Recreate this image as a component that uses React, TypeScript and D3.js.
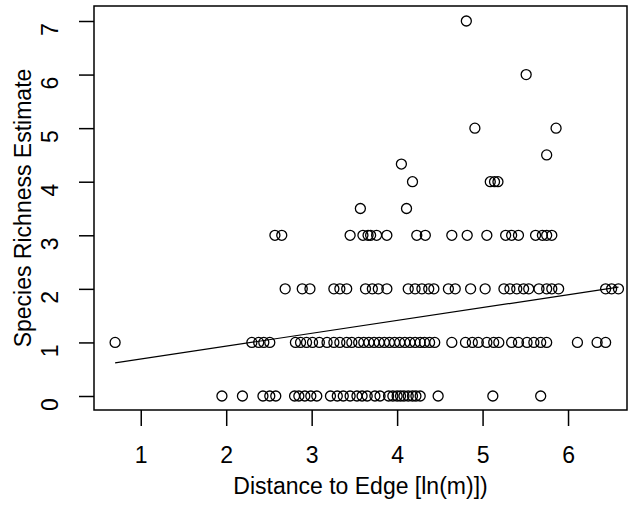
import React, { useEffect, useRef } from "react";
import * as d3 from "d3";

// distance to edge (ln m) of each plot, grouped by its species richness estimate
const distAtZero = [
  1.95, 2.19, 2.43, 2.51, 2.58, 2.8, 2.85, 2.92, 2.99, 3.06, 3.22, 3.3, 3.37, 3.45,
  3.53, 3.59, 3.65, 3.74, 3.8, 3.9, 3.95, 4.0, 4.04, 4.08, 4.13, 4.18, 4.22, 4.27,
  4.48, 5.12, 5.68,
];
const distAtOne = [
  0.7, 2.3, 2.38, 2.44, 2.51, 2.81, 2.87, 2.94, 3.01, 3.09, 3.18, 3.26, 3.33, 3.41,
  3.47, 3.55, 3.61, 3.67, 3.73, 3.79, 3.85, 3.91, 3.97, 4.03, 4.09, 4.15, 4.21,
  4.27, 4.32, 4.38, 4.44, 4.64, 4.8, 4.88, 4.95, 5.05, 5.13, 5.19, 5.34, 5.42, 5.52,
  5.6, 5.68, 5.75, 6.11, 6.34, 6.44,
];
const distAtTwo = [
  2.69, 2.89, 2.98, 3.26, 3.33, 3.41, 3.63, 3.71, 3.78, 3.88, 4.13, 4.21, 4.29,
  4.37, 4.43, 4.6, 4.68, 4.86, 5.03, 5.25, 5.32, 5.4, 5.48, 5.54, 5.66, 5.75, 5.81,
  5.89, 6.44, 6.51, 6.59,
];
const distAtThree = [
  2.57, 2.65, 3.45, 3.6, 3.66, 3.69, 3.76, 3.88, 4.23, 4.33, 4.64, 4.82, 5.05, 5.27,
  5.34, 5.42, 5.62, 5.7, 5.75, 5.81,
];
const upperDist = [3.57, 4.11, 4.18, 5.09, 5.14, 5.18, 4.05, 5.75, 4.91, 5.86, 5.51, 4.81];
const upperRichness = [3.5, 3.5, 4, 4, 4, 4, 4.33, 4.5, 5, 5, 6, 7];

const fitIntercept = 0.45;
const fitSlope = 0.24;

const xTicks = [1, 2, 3, 4, 5, 6];
const yTicks = [0, 1, 2, 3, 4, 5, 6, 7];
const xTitle = "Distance to Edge [ln(m)])";
const yTitle = "Species Richness Estimate";

export default function App() {
  const svgRef = useRef<SVGSVGElement | null>(null);

  useEffect(() => {
    if (!svgRef.current) return;
    const width = 629;
    const height = 506;
    const box = { left: 94, right: 627, top: 6, bottom: 410 };
    const font = "'Liberation Sans', Arial, sans-serif";
    const fontSize = 23;

    const svg = d3.select(svgRef.current);
    svg.selectAll("*").remove();
    svg.attr("width", width).attr("height", height);

    const points: [number, number][] = [
      ...distAtZero.map((d) => [d, 0] as [number, number]),
      ...distAtOne.map((d) => [d, 1] as [number, number]),
      ...distAtTwo.map((d) => [d, 2] as [number, number]),
      ...distAtThree.map((d) => [d, 3] as [number, number]),
      ...upperDist.map((d, i) => [d, upperRichness[i]] as [number, number]),
    ];

    const x = d3.scaleLinear().domain([0.453, 6.69]).range([box.left, box.right]);
    const y = d3.scaleLinear().domain([-0.28, 7.28]).range([box.bottom + 1, box.top]);

    svg
      .append("rect")
      .attr("x", box.left)
      .attr("y", box.top)
      .attr("width", box.right - box.left)
      .attr("height", box.bottom - box.top)
      .attr("fill", "none")
      .attr("stroke", "#000")
      .attr("stroke-width", 1.5);

    const xAxis = svg
      .append("g")
      .attr("transform", `translate(0,${box.bottom})`)
      .call(d3.axisBottom(x).tickValues(xTicks).tickSize(16).tickFormat(d3.format("d")));
    xAxis.select(".domain").remove();
    xAxis.selectAll("line").attr("stroke-width", 1.5);
    xAxis
      .selectAll("text")
      .attr("font-family", font)
      .attr("font-size", fontSize)
      .attr("dy", 0)
      .attr("y", 53);

    const yAxis = svg
      .append("g")
      .attr("transform", `translate(${box.left},0)`)
      .call(d3.axisLeft(y).tickValues(yTicks).tickSize(15).tickFormat(d3.format("d")));
    yAxis.select(".domain").remove();
    yAxis.selectAll("line").attr("stroke-width", 1.5);
    yAxis
      .selectAll("text")
      .attr("font-family", font)
      .attr("font-size", fontSize)
      .attr("x", 0)
      .attr("dy", 0)
      .attr("text-anchor", "middle")
      .attr("transform", "translate(-36,8) rotate(-90)");

    svg
      .append("g")
      .selectAll("circle")
      .data(points)
      .join("circle")
      .attr("cx", (d) => x(d[0]))
      .attr("cy", (d) => y(d[1]))
      .attr("r", 5)
      .attr("fill", "none")
      .attr("stroke", "#000")
      .attr("stroke-width", 1.3);

    const xs = points.map((d) => d[0]);
    const fitEnds = [d3.min(xs) as number, d3.max(xs) as number];
    svg
      .append("path")
      .datum(fitEnds)
      .attr(
        "d",
        d3
          .line<number>()
          .x((d) => x(d))
          .y((d) => y(fitIntercept + fitSlope * d))
      )
      .attr("fill", "none")
      .attr("stroke", "#000")
      .attr("stroke-width", 1.2);

    svg
      .append("text")
      .attr("x", (box.left + box.right) / 2)
      .attr("y", 494)
      .attr("text-anchor", "middle")
      .attr("font-family", font)
      .attr("font-size", fontSize)
      .text(xTitle);

    svg
      .append("text")
      .attr("transform", `translate(31,${(box.top + box.bottom) / 2}) rotate(-90)`)
      .attr("text-anchor", "middle")
      .attr("font-family", font)
      .attr("font-size", fontSize)
      .text(yTitle);
  }, []);

  return (
    <div style={{ position: "absolute", left: 0, top: 0 }}>
      <svg ref={svgRef} style={{ display: "block" }} />
    </div>
  );
}
